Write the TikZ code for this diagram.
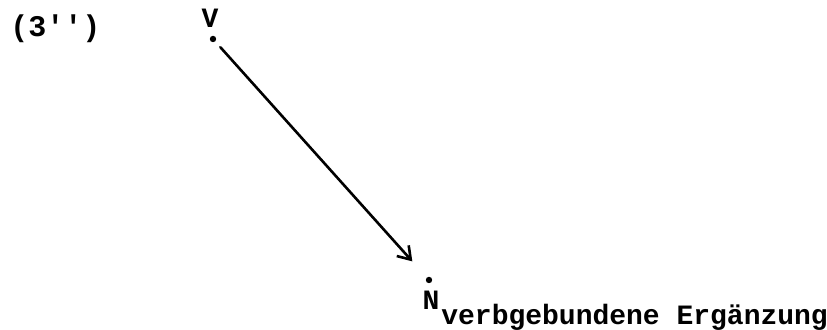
\documentclass[tikz,border=0pt]{standalone}
\usepackage{fontspec}
\setmonofont{Liberation Mono}
\usetikzlibrary{arrows.meta}

\begin{document}
\begin{tikzpicture}[x=0.5pt,y=-0.5pt,>={Straight Barb[length=6pt,width=8pt]},line cap=round,
  every node/.style={font=\ttfamily\bfseries\fontsize{14}{16}\selectfont,inner sep=0pt}]
\useasboundingbox (0,0) rectangle (827,330);
\node[anchor=base west,font=\ttfamily\bfseries\fontsize{15}{17}\selectfont] (num) at (10,37) {(3'')};
\node[anchor=base] (verb) at (210,28) {V};
\coordinate (vdot) at (213,39);
\node[anchor=base] (noun) at (431,310) {N};
\coordinate (ndot) at (429,280);
\node[anchor=base west] (erg) at (441,325) {verbgebundene Ergänzung};
\fill (vdot) circle (1.6pt);
\fill (ndot) circle (1.6pt);
\draw[->,line width=1.3pt,shorten <=5.5pt,shorten >=12.5pt] (vdot) -- (ndot);
\end{tikzpicture}
\end{document}
